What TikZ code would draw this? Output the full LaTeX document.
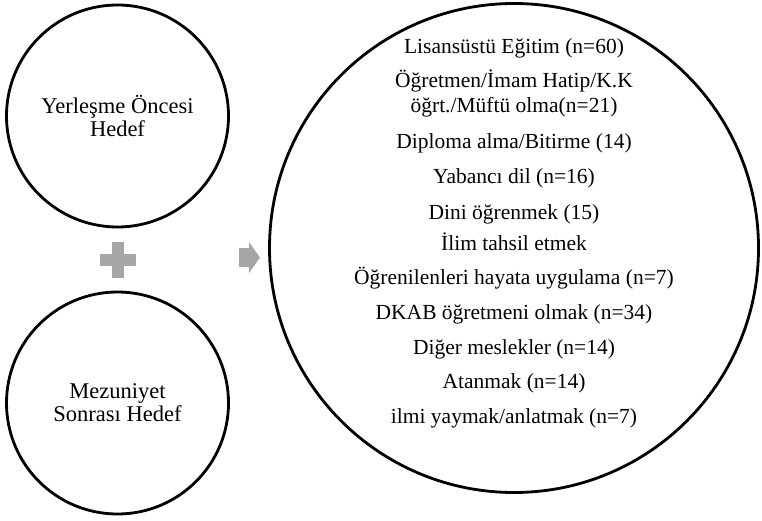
\documentclass[tikz,border=0pt]{standalone}
\usepackage{fontspec}
\setmainfont{Liberation Serif}
\definecolor{sgray}{RGB}{166,166,166}
\begin{document}
\begin{tikzpicture}[x=1pt,y=-1pt,
  ring/.style={circle,draw=black,line width=2.8pt,inner sep=0pt},
  goal/.style={ring,minimum size=222pt,align=center,font=\fontsize{22.5}{23}\selectfont},
  item/.style={anchor=base,inner sep=0pt,font=\fontsize{21.5}{25}\selectfont,align=center},
  glyph/.style={fill=sgray,draw=none}]
\useasboundingbox (0,0) rectangle (762,521);
\node[goal] (pre) at (117.5,116) {Yerleşme Öncesi\\Hedef};
\node[goal] (post) at (117.5,403) {Mezuniyet\\Sonrası Hedef};
\node[ring,minimum size=489pt] (big) at (514,248) {};
% plus sign
\fill[glyph] (112,242) rectangle (124,278);
\fill[glyph] (100,254) rectangle (136,266);
% arrow
\fill[glyph] (239,248) -- (249,248) -- (249,242) -- (260,257.5) -- (249,273) -- (249,267) -- (239,267) -- cycle;
\node[item] (l1) at (514,54) {Lisansüstü Eğitim (n=60)};
\node[item] (l2) at (514,88) {Öğretmen/İmam Hatip/K.K};
\node[item] (l2b) at (514,113) {öğrt./Müftü olma(n=21)};
\node[item] (l3) at (514,149) {Diploma alma/Bitirme (14)};
\node[item] (l4) at (514,184) {Yabancı dil (n=16)};
\node[item] (l5) at (514,219) {Dini öğrenmek (15)};
\node[item] (l6) at (514,250) {İlim tahsil etmek};
\node[item] (l7) at (514,284) {Öğrenilenleri hayata uygulama (n=7)};
\node[item] (l8) at (514,319) {DKAB öğretmeni olmak (n=34)};
\node[item] (l9) at (514,354) {Diğer meslekler (n=14)};
\node[item] (l10) at (514,388) {Atanmak (n=14)};
\node[item] (l11) at (514,423) {ilmi yaymak/anlatmak (n=7)};
\end{tikzpicture}
\end{document}
